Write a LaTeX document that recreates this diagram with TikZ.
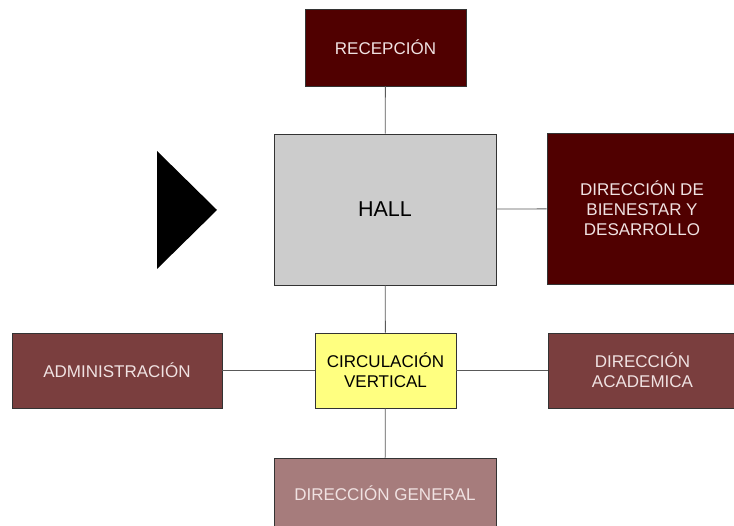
\documentclass[tikz,border=0pt]{standalone}
\usepackage{fontspec}
\setmainfont{Liberation Sans}
\usepackage{tikz}

\definecolor{rojoosc}{HTML}{500000}
\definecolor{rojomed}{HTML}{7A3E3E}
\definecolor{rojocla}{HTML}{A67C7C}
\definecolor{gris}{HTML}{CCCCCC}
\definecolor{amarillo}{HTML}{FFFF80}
\definecolor{textorosa}{HTML}{F0E2E2}

\begin{document}
\begin{tikzpicture}[x=1pt,y=1pt,
		caja/.style={draw=black!80, line width=0.8pt, align=center, inner sep=0pt,
			font=\fontsize{17}{20}\selectfont},
		oscura/.style={caja, fill=rojoosc, text=textorosa},
		media/.style={caja, fill=rojomed, text=textorosa},
		clara/.style={caja, fill=rojocla, text=textorosa},
		enlace/.style={draw=black!65, line width=0.8pt}]
		  \useasboundingbox (0,0) rectangle (734,526);
		  % cajas
		  \node[oscura, minimum width=161, minimum height=77] (recepcion) at (385.5,478.5) {RECEPCIÓN};
		  \node[caja, fill=gris, minimum width=222, minimum height=151, font=\fontsize{21.5}{25}\selectfont] (hall) at (385,316.5) {HALL};
		  \node[oscura, minimum width=190, minimum height=151] (bienestar) at (642,317.5) {DIRECCIÓN DE\\BIENESTAR Y\\DESARROLLO};
		  \node[media, minimum width=210, minimum height=75] (admin) at (117,155.5) {ADMINISTRACIÓN};
		  \node[caja, fill=amarillo, minimum width=141, minimum height=75] (circulacion) at (385.5,155.5) {CIRCULACIÓN\\VERTICAL};
		  \node[media, minimum width=189, minimum height=75] (academica) at (642.5,155.5) {DIRECCIÓN\\ACADEMICA};
		  \node[clara, minimum width=222, minimum height=70] (general) at (385,33) {DIRECCIÓN GENERAL};
		  % lineas de enlace
		  \draw[enlace] (recepcion) -- (hall);
		  \draw[enlace] (hall) -- (bienestar);
		  \draw[enlace] (hall) -- (circulacion);
		  \draw[enlace] (circulacion) -- (admin);
		  \draw[enlace] (circulacion) -- (academica);
		  \draw[enlace] (circulacion) -- (general);
		  % flecha de acceso
		  \fill[black] (157,375) -- (217,316) -- (157,257) -- cycle;
		\end{tikzpicture}
\end{document}
